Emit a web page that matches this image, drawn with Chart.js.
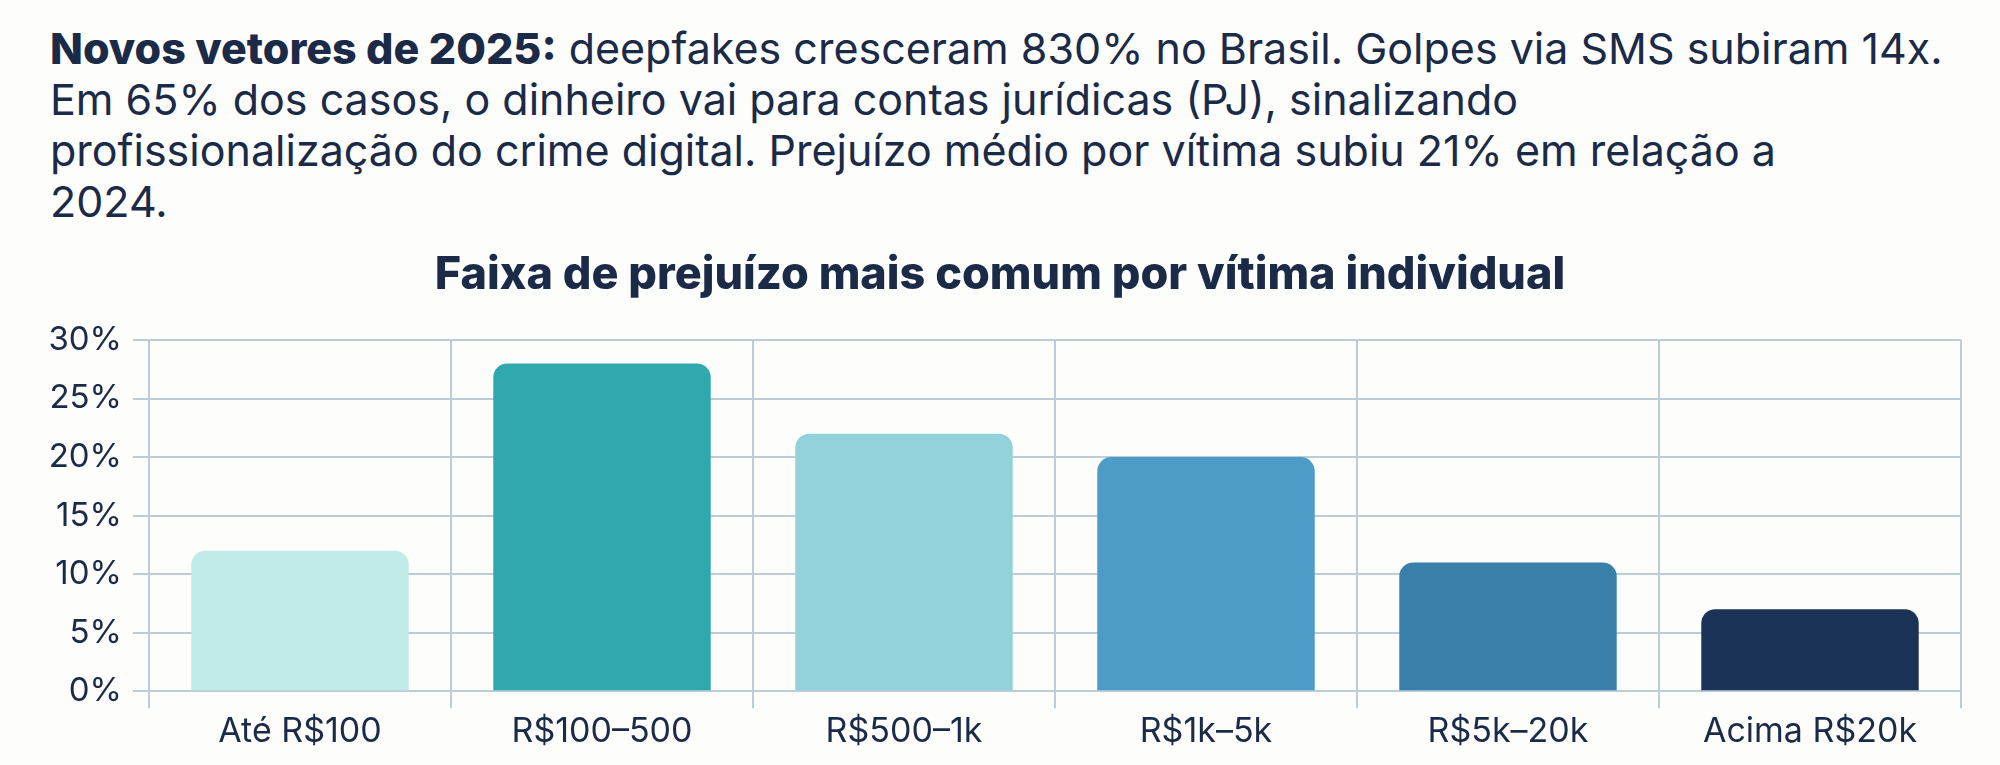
<!DOCTYPE html>
<html lang="pt-BR">
<head>
<meta charset="utf-8">
<script src="https://cdn.jsdelivr.net/npm/chart.js@4/dist/chart.umd.min.js"></script>
<style>
  html, body { margin: 0; padding: 0; background: #fdfdfc; }
  body { width: 2000px; height: 765px; position: relative; overflow: hidden; }
  #lead {
    position: absolute; left: 50px; top: 23px; width: 1920px;
    font-family: Inter, "Noto Sans", sans-serif; font-size: 43px; line-height: 51px;
    color: #1b2a47; white-space: nowrap;
  }
  #lead b { font-weight: 800; }
  #wrap { position: absolute; left: 0; top: 0; width: 2000px; height: 765px; }
</style>
</head>
<body>
<div id="lead">
  <b>Novos vetores de 2025:</b> deepfakes cresceram 830% no Brasil. Golpes via SMS subiram 14x.<br>
  Em 65% dos casos, o dinheiro vai para contas jurídicas (PJ), sinalizando<br>
  profissionalização do crime digital. Prejuízo médio por vítima subiu 21% em relação a<br>
  2024.
</div>
<div id="wrap"><canvas id="chart"></canvas></div>
<script>
const TITLE = 'Faixa de prejuízo mais comum por vítima individual';
const categories = ['Até R$100', 'R$100–500', 'R$500–1k', 'R$1k–5k', 'R$5k–20k', 'Acima R$20k'];
const shares = [12, 28, 22, 20, 11, 7];
const barColors = ['#c0ebe8', '#2fa9ad', '#94d2db', '#4d9cc7', '#3880a9', '#1c3358'];
const yTicks = [0, 5, 10, 15, 20, 25, 30];

const INK = '#1b2a47';
const GRID = '#bccdd8';
const FONT = 'Inter, "Noto Sans", sans-serif';

new Chart(document.getElementById('chart'), {
  type: 'bar',
  data: {
    labels: categories,
    datasets: [{
      data: shares,
      backgroundColor: barColors,
      borderRadius: { topLeft: 14, topRight: 14 },
      borderSkipped: 'bottom',
      categoryPercentage: 1,
      barPercentage: 0.72
    }]
  },
  options: {
    responsive: true,
    maintainAspectRatio: false,
    animation: false,
    // left pad + y-axis width (110) put the plot edge at x=149 and keep the title centred
    layout: { padding: { top: 200, right: 39, bottom: 10, left: 39 } },
    plugins: {
      legend: { display: false },
      tooltip: { enabled: false },
      title: {
        display: true,
        text: TITLE,
        color: INK,
        font: { family: FONT, size: 45, weight: '800', lineHeight: 1.2 },
        padding: { top: 48, bottom: 38 }
      }
    },
    scales: {
      x: {
        grid: { color: GRID, lineWidth: 2, tickLength: 17, offset: true },
        border: { color: GRID, width: 2 },
        ticks: { color: INK, font: { family: FONT, size: 34 }, padding: 3, maxRotation: 0 }
      },
      y: {
        min: 0, max: 30,
        afterFit: (s) => { s.width = 110; },
        afterBuildTicks: (s) => { s.ticks = yTicks.map(v => ({ value: v })); },
        grid: { color: GRID, lineWidth: 2, tickLength: 16 },
        border: { color: GRID, width: 2 },
        ticks: { color: INK, font: { family: FONT, size: 33 }, padding: 11, callback: (v) => v + '%' }
      }
    }
  }
});
</script>
</body>
</html>
